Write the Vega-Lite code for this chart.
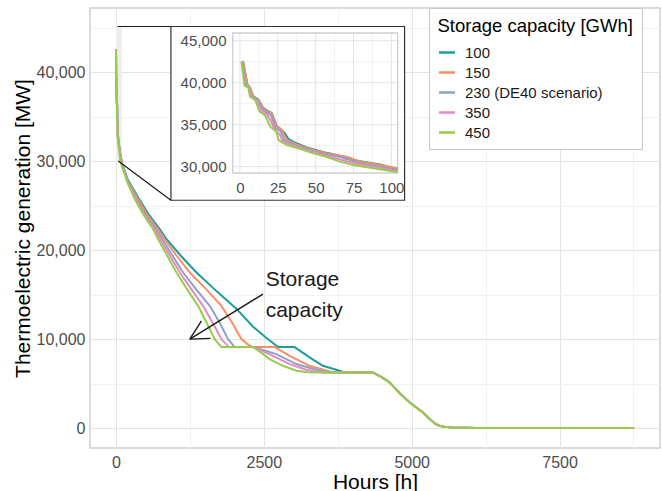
{
  "$schema": "https://vega.github.io/schema/vega-lite/v6.json",
  "width": 570,
  "height": 440,
  "autosize": "none",
  "padding": {"left": 90, "top": 8, "right": 2, "bottom": 43},
  "config": {
    "font": "Liberation Sans",
    "view": {"stroke": "#CFCFCF", "strokeWidth": 1.5},
    "axis": {"labelFlush": false, "labelOverlap": false, "labelBound": false}
  },
  "datasets": {
    "curves": [
      {"c":"100","h":2,"v":42600},{"c":"100","h":4.9,"v":39800},{"c":"100","h":6.6,"v":39400},{"c":"100","h":8.8,"v":38400},{"c":"100","h":12.1,"v":38000},{"c":"100","h":15.4,"v":37000},{"c":"100","h":18.7,"v":36600},{"c":"100","h":21,"v":36400},{"c":"100","h":24.3,"v":34850},{"c":"100","h":26.5,"v":34560},{"c":"100","h":29.8,"v":33960},{"c":"100","h":32,"v":33300},{"c":"100","h":35.3,"v":32950},{"c":"100","h":44.1,"v":32300},{"c":"100","h":57.3,"v":31650},{"c":"100","h":65,"v":31350},{"c":"100","h":70,"v":30950},{"c":"100","h":79.4,"v":30650},{"c":"100","h":92.6,"v":30250},{"c":"100","h":104,"v":29700},{"c":"100","h":124,"v":29400},{"c":"100","h":200,"v":27950},{"c":"100","h":395,"v":25730},{"c":"100","h":540,"v":24150},{"c":"100","h":743,"v":22360},{"c":"100","h":856,"v":21236},{"c":"100","h":1100,"v":19350},{"c":"100","h":1362,"v":17494},{"c":"100","h":1700,"v":15400},{"c":"100","h":2040,"v":13400},{"c":"100","h":2318,"v":11400},{"c":"100","h":2530,"v":10200},{"c":"100","h":2740,"v":9100},{"c":"100","h":3020,"v":9100},{"c":"100","h":3274,"v":7940},{"c":"100","h":3499,"v":7000},{"c":"100","h":3836,"v":6326},{"c":"100","h":3950,"v":6250},
      {"c":"100","h":4343,"v":6250},{"c":"100","h":4500,"v":5700},{"c":"100","h":4624,"v":5135},{"c":"100","h":4800,"v":3900},{"c":"100","h":4962,"v":2890},{"c":"100","h":5080,"v":2300},{"c":"100","h":5186,"v":1764},{"c":"100","h":5300,"v":1050},{"c":"100","h":5400,"v":450},{"c":"100","h":5468,"v":250},{"c":"100","h":5550,"v":130},{"c":"100","h":5700,"v":70},{"c":"100","h":5900,"v":30},{"c":"100","h":6100,"v":10},{"c":"100","h":6500,"v":0},{"c":"100","h":8760,"v":0},

      {"c":"150","h":2,"v":42600},{"c":"150","h":4.9,"v":39730},{"c":"150","h":6.6,"v":39330},{"c":"150","h":8.8,"v":38330},{"c":"150","h":12.1,"v":37940},{"c":"150","h":15.4,"v":36950},{"c":"150","h":18.7,"v":36550},{"c":"150","h":20.9,"v":36360},{"c":"150","h":24.3,"v":34760},{"c":"150","h":27.6,"v":34370},{"c":"150","h":30.9,"v":33180},{"c":"150","h":35.3,"v":32790},{"c":"150","h":44.1,"v":32190},{"c":"150","h":57.3,"v":31600},{"c":"150","h":70.5,"v":31190},{"c":"150","h":79.4,"v":30600},{"c":"150","h":92.6,"v":30200},{"c":"150","h":104,"v":29810},{"c":"150","h":124,"v":29300},{"c":"150","h":200,"v":27800},{"c":"150","h":377,"v":25730},{"c":"150","h":510,"v":24150},{"c":"150","h":715,"v":22360},{"c":"150","h":824,"v":21236},{"c":"150","h":1030,"v":19350},{"c":"150","h":1249,"v":17494},{"c":"150","h":1520,"v":15650},{"c":"150","h":1784,"v":13742},{"c":"150","h":1960,"v":11900},{"c":"150","h":2121,"v":10000},{"c":"150","h":2240,"v":9350},{"c":"150","h":2318,"v":9100},{"c":"150","h":2684,"v":9100},{"c":"150","h":2800,"v":8650},{"c":"150","h":2937,"v":8123},{"c":"150","h":3274,"v":7000},{"c":"150","h":3612,"v":6370},{"c":"150","h":3750,"v":6250},
      {"c":"150","h":4343,"v":6250},{"c":"150","h":4500,"v":5700},{"c":"150","h":4624,"v":5135},{"c":"150","h":4800,"v":3900},{"c":"150","h":4962,"v":2890},{"c":"150","h":5080,"v":2300},{"c":"150","h":5186,"v":1764},{"c":"150","h":5300,"v":1050},{"c":"150","h":5400,"v":450},{"c":"150","h":5468,"v":250},{"c":"150","h":5550,"v":130},{"c":"150","h":5700,"v":70},{"c":"150","h":5900,"v":30},{"c":"150","h":6100,"v":10},{"c":"150","h":6500,"v":0},{"c":"150","h":8760,"v":0},

      {"c":"230 (DE40 scenario)","h":1.5,"v":42550},{"c":"230 (DE40 scenario)","h":4,"v":39700},{"c":"230 (DE40 scenario)","h":6,"v":39380},{"c":"230 (DE40 scenario)","h":8,"v":38350},{"c":"230 (DE40 scenario)","h":11.5,"v":37940},{"c":"230 (DE40 scenario)","h":15,"v":36850},{"c":"230 (DE40 scenario)","h":18,"v":36450},{"c":"230 (DE40 scenario)","h":20.5,"v":36100},{"c":"230 (DE40 scenario)","h":23.5,"v":34600},{"c":"230 (DE40 scenario)","h":27,"v":34200},{"c":"230 (DE40 scenario)","h":29.5,"v":33100},{"c":"230 (DE40 scenario)","h":34,"v":32700},{"c":"230 (DE40 scenario)","h":43,"v":32150},{"c":"230 (DE40 scenario)","h":56,"v":31500},{"c":"230 (DE40 scenario)","h":69,"v":31050},{"c":"230 (DE40 scenario)","h":78,"v":30450},{"c":"230 (DE40 scenario)","h":91,"v":30050},{"c":"230 (DE40 scenario)","h":104,"v":29550},{"c":"230 (DE40 scenario)","h":124,"v":29200},{"c":"230 (DE40 scenario)","h":200,"v":27700},{"c":"230 (DE40 scenario)","h":350,"v":25730},{"c":"230 (DE40 scenario)","h":480,"v":24150},{"c":"230 (DE40 scenario)","h":680,"v":22360},{"c":"230 (DE40 scenario)","h":785,"v":21236},{"c":"230 (DE40 scenario)","h":960,"v":19350},{"c":"230 (DE40 scenario)","h":1136,"v":17494},{"c":"230 (DE40 scenario)","h":1350,"v":15650},{"c":"230 (DE40 scenario)","h":1586,"v":13742},{"c":"230 (DE40 scenario)","h":1750,"v":11900},{"c":"230 (DE40 scenario)","h":1896,"v":10000},{"c":"230 (DE40 scenario)","h":2008,"v":9100},{"c":"230 (DE40 scenario)","h":2318,"v":9100},{"c":"230 (DE40 scenario)","h":2500,"v":8750},{"c":"230 (DE40 scenario)","h":2712,"v":8315},{"c":"230 (DE40 scenario)","h":3050,"v":7191},{"c":"230 (DE40 scenario)","h":3387,"v":6550},{"c":"230 (DE40 scenario)","h":3550,"v":6300},{"c":"230 (DE40 scenario)","h":3650,"v":6250},
      {"c":"230 (DE40 scenario)","h":4343,"v":6250},{"c":"230 (DE40 scenario)","h":4500,"v":5700},{"c":"230 (DE40 scenario)","h":4624,"v":5135},{"c":"230 (DE40 scenario)","h":4800,"v":3900},{"c":"230 (DE40 scenario)","h":4962,"v":2890},{"c":"230 (DE40 scenario)","h":5080,"v":2300},{"c":"230 (DE40 scenario)","h":5186,"v":1764},{"c":"230 (DE40 scenario)","h":5300,"v":1050},{"c":"230 (DE40 scenario)","h":5400,"v":450},{"c":"230 (DE40 scenario)","h":5468,"v":250},{"c":"230 (DE40 scenario)","h":5550,"v":130},{"c":"230 (DE40 scenario)","h":5700,"v":70},{"c":"230 (DE40 scenario)","h":5900,"v":30},{"c":"230 (DE40 scenario)","h":6100,"v":10},{"c":"230 (DE40 scenario)","h":6500,"v":0},{"c":"230 (DE40 scenario)","h":8760,"v":0},

      {"c":"350","h":1.2,"v":42520},{"c":"350","h":3.5,"v":39650},{"c":"350","h":5.8,"v":39400},{"c":"350","h":7.5,"v":38340},{"c":"350","h":11,"v":37940},{"c":"350","h":14,"v":36700},{"c":"350","h":17.5,"v":36300},{"c":"350","h":20.2,"v":35500},{"c":"350","h":23,"v":34400},{"c":"350","h":26.5,"v":33800},{"c":"350","h":28,"v":33100},{"c":"350","h":33,"v":32650},{"c":"350","h":42,"v":32120},{"c":"350","h":52,"v":31550},{"c":"350","h":63,"v":31000},{"c":"350","h":77,"v":30350},{"c":"350","h":90,"v":29950},{"c":"350","h":104,"v":29450},{"c":"350","h":124,"v":29150},{"c":"350","h":200,"v":27650},{"c":"350","h":335,"v":25730},{"c":"350","h":465,"v":24150},{"c":"350","h":655,"v":22360},{"c":"350","h":750,"v":21236},{"c":"350","h":915,"v":19350},{"c":"350","h":1080,"v":17494},{"c":"350","h":1270,"v":15650},{"c":"350","h":1474,"v":13742},{"c":"350","h":1630,"v":11900},{"c":"350","h":1784,"v":10000},{"c":"350","h":1913,"v":9100},{"c":"350","h":2318,"v":9100},{"c":"350","h":2480,"v":8650},{"c":"350","h":2655,"v":8123},{"c":"350","h":2937,"v":7191},{"c":"350","h":3218,"v":6550},{"c":"350","h":3400,"v":6300},{"c":"350","h":3500,"v":6250},
      {"c":"350","h":4343,"v":6250},{"c":"350","h":4500,"v":5700},{"c":"350","h":4624,"v":5135},{"c":"350","h":4800,"v":3900},{"c":"350","h":4962,"v":2890},{"c":"350","h":5080,"v":2300},{"c":"350","h":5186,"v":1764},{"c":"350","h":5300,"v":1050},{"c":"350","h":5400,"v":450},{"c":"350","h":5468,"v":250},{"c":"350","h":5550,"v":130},{"c":"350","h":5700,"v":70},{"c":"350","h":5900,"v":30},{"c":"350","h":6100,"v":10},{"c":"350","h":6500,"v":0},{"c":"350","h":8760,"v":0},

      {"c":"450","h":1,"v":42500},{"c":"450","h":3,"v":39600},{"c":"450","h":5.5,"v":39450},{"c":"450","h":6.6,"v":38330},{"c":"450","h":10,"v":37940},{"c":"450","h":13,"v":36550},{"c":"450","h":16.5,"v":36150},{"c":"450","h":20,"v":34760},{"c":"450","h":24,"v":34170},{"c":"450","h":25.5,"v":33180},{"c":"450","h":31,"v":32580},{"c":"450","h":40,"v":32100},{"c":"450","h":48.5,"v":31600},{"c":"450","h":57,"v":31190},{"c":"450","h":66,"v":30600},{"c":"450","h":75,"v":30200},{"c":"450","h":88,"v":29810},{"c":"450","h":104,"v":29370},{"c":"450","h":124,"v":29050},{"c":"450","h":200,"v":27550},{"c":"450","h":321,"v":25730},{"c":"450","h":450,"v":24150},{"c":"450","h":630,"v":22360},{"c":"450","h":714,"v":21236},{"c":"450","h":870,"v":19350},{"c":"450","h":1024,"v":17494},{"c":"450","h":1200,"v":15650},{"c":"450","h":1389,"v":13742},{"c":"450","h":1530,"v":11900},{"c":"450","h":1671,"v":10000},{"c":"450","h":1784,"v":9100},{"c":"450","h":2318,"v":9100},{"c":"450","h":2460,"v":8450},{"c":"450","h":2599,"v":7753},{"c":"450","h":2824,"v":7000},{"c":"450","h":3050,"v":6438},{"c":"450","h":3250,"v":6280},{"c":"450","h":3400,"v":6250},
      {"c":"450","h":4343,"v":6250},{"c":"450","h":4500,"v":5700},{"c":"450","h":4624,"v":5135},{"c":"450","h":4800,"v":3900},{"c":"450","h":4962,"v":2890},{"c":"450","h":5080,"v":2300},{"c":"450","h":5186,"v":1764},{"c":"450","h":5300,"v":1050},{"c":"450","h":5400,"v":450},{"c":"450","h":5468,"v":250},{"c":"450","h":5550,"v":130},{"c":"450","h":5700,"v":70},{"c":"450","h":5900,"v":30},{"c":"450","h":6100,"v":10},{"c":"450","h":6500,"v":0},{"c":"450","h":8760,"v":0}
    ]
  },
  "resolve": {"scale": {"x": "independent", "y": "independent"}},
  "layer": [
    {
      "layer": [
        {
          "data": {"name": "curves"},
          "mark": {"type": "line", "strokeWidth": 2, "opacity": 0},
          "encoding": {
            "x": {
              "field": "h", "type": "quantitative",
              "scale": {"domain": [-438, 9198], "nice": false, "zero": false},
              "axis": {
                "values": [0, 1250, 2500, 3750, 5000, 6250, 7500, 8750],
                "labelExpr": "datum.value % 2500 === 0 ? format(datum.value, 'd') : ''",
                "grid": true,
                "gridColor": {"condition": {"test": "datum.value % 2500 === 0", "value": "#E4E4E4"}, "value": "#F1F1F1"},
                "gridWidth": 1,
                "domain": false, "ticks": false,
                "labelFontSize": 16, "labelColor": "#4D4D4D", "labelPadding": 6.5,
                "title": "Hours [h]", "titleFontSize": 21, "titleFontWeight": "normal", "titleColor": "#000000",
                "titleX": 285, "titleY": 40, "titleAlign": "center", "titleBaseline": "alphabetic"
              }
            },
            "y": {
              "field": "v", "type": "quantitative",
              "scale": {"domain": [-2250, 47250], "nice": false, "zero": false},
              "axis": {
                "values": [0, 5000, 10000, 15000, 20000, 25000, 30000, 35000, 40000, 45000],
                "labelExpr": "datum.value % 10000 === 0 ? format(datum.value, ',') : ''",
                "grid": true,
                "gridColor": {"condition": {"test": "datum.value % 10000 === 0", "value": "#E4E4E4"}, "value": "#F1F1F1"},
                "gridWidth": 1,
                "domain": false, "ticks": false,
                "labelFontSize": 16, "labelColor": "#4D4D4D", "labelPadding": 5,
                "title": "Thermoelectric generation [MW]", "titleFontSize": 21, "titleFontWeight": "normal", "titleColor": "#000000",
                "titleX": -61, "titleY": 220, "titleAngle": 270, "titleAlign": "center", "titleBaseline": "alphabetic"
              }
            },
            "color": {
              "field": "c", "type": "nominal",
              "scale": {
                "domain": ["100", "150", "230 (DE40 scenario)", "350", "450"],
                "range": ["#1B9E98", "#FC8D62", "#8DA0CB", "#E78AC3", "#96CD4A"]
              },
              "legend": {
                "orient": "none", "legendX": 339, "legendY": 0,
                "title": "Storage capacity [GWh]",
                "titleFontSize": 18.5, "titleFontWeight": "normal", "titleColor": "#000000", "titlePadding": 8, "titleLimit": 600,
                "labelFontSize": 15, "labelColor": "#1A1A1A", "labelOffset": 8.5, "labelLimit": 600,
                "symbolType": "stroke", "symbolSize": 256, "symbolStrokeWidth": 2.5, "symbolOpacity": 1,
                "rowPadding": 2, "padding": 8.5,
                "fillColor": "#FFFFFF", "strokeColor": "#C8C8C8",
                "zindex": 3
              }
            }
          }
        },
        {
          "data": {"values": [{}]},
          "mark": {"type": "rect", "fill": "#EDEDED"},
          "encoding": {
            "x": {"datum": 0, "type": "quantitative"},
            "x2": {"datum": 100},
            "y": {"datum": 30000, "type": "quantitative"},
            "y2": {"datum": 45170}
          }
        },
        {
          "data": {"name": "curves"},
          "mark": {"type": "line", "strokeWidth": 2},
          "encoding": {
            "x": {"field": "h", "type": "quantitative"},
            "y": {"field": "v", "type": "quantitative"},
            "color": {"field": "c", "type": "nominal"}
          }
        },
        {
          "data": {"values": [{}]},
          "mark": {"type": "rect", "fill": "#FFFFFF", "stroke": "#333333", "strokeWidth": 1.2},
          "encoding": {
            "x": {"datum": 930, "type": "quantitative"},
            "x2": {"datum": 4880},
            "y": {"datum": 25620, "type": "quantitative"},
            "y2": {"datum": 45170}
          }
        },
        {
          "data": {"values": [{}]},
          "mark": {"type": "rule", "color": "#1A1A1A", "strokeWidth": 1.2},
          "encoding": {
            "x": {"datum": 28, "type": "quantitative"},
            "x2": {"datum": 930},
            "y": {"datum": 45170, "type": "quantitative"},
            "y2": {"datum": 45170}
          }
        },
        {
          "data": {"values": [{}]},
          "mark": {"type": "rule", "color": "#1A1A1A", "strokeWidth": 1.2},
          "encoding": {
            "x": {"datum": 39, "type": "quantitative"},
            "x2": {"datum": 930},
            "y": {"datum": 30030, "type": "quantitative"},
            "y2": {"datum": 25620}
          }
        },
        {
          "data": {"values": [{}]},
          "mark": {"type": "rule", "color": "#1A1A1A", "strokeWidth": 1.4},
          "encoding": {
            "x": {"datum": 2486, "type": "quantitative"},
            "x2": {"datum": 1249},
            "y": {"datum": 15056, "type": "quantitative"},
            "y2": {"datum": 10000}
          }
        },
        {
          "data": {"values": [{}]},
          "mark": {"type": "rule", "color": "#1A1A1A", "strokeWidth": 1.4},
          "encoding": {
            "x": {"datum": 1249, "type": "quantitative"},
            "x2": {"datum": 1446},
            "y": {"datum": 10000, "type": "quantitative"},
            "y2": {"datum": 12056}
          }
        },
        {
          "data": {"values": [{}]},
          "mark": {"type": "rule", "color": "#1A1A1A", "strokeWidth": 1.4},
          "encoding": {
            "x": {"datum": 1249, "type": "quantitative"},
            "x2": {"datum": 1598},
            "y": {"datum": 10000, "type": "quantitative"},
            "y2": {"datum": 10079}
          }
        },
        {
          "data": {"values": [{}]},
          "mark": {"type": "text", "text": ["Storage", "capacity"], "align": "left", "baseline": "alphabetic", "fontSize": 21, "lineHeight": 31, "color": "#1A1A1A"},
          "encoding": {
            "x": {"datum": 2532, "type": "quantitative"},
            "y": {"datum": 15955, "type": "quantitative"}
          }
        }
      ]
    },
    {
      "layer": [
        {
          "data": {"name": "curves"},
          "transform": [{"filter": "datum.h <= 104"}],
          "mark": {"type": "line", "strokeWidth": 2, "opacity": 0},
          "encoding": {
            "x": {
              "field": "h", "type": "quantitative",
              "scale": {"domain": [-4.8, 104.2], "range": [142.7, 307.7], "nice": false, "zero": false},
              "axis": {
                "orient": "bottom", "offset": -275,
                "values": [0, 25, 50, 75, 100],
                "labelExpr": "format(datum.value, 'd')",
                "grid": false, "domain": false, "ticks": false,
                "labelFontSize": 15, "labelColor": "#4D4D4D", "labelPadding": 7.5,
                "title": null, "zindex": 1
              }
            },
            "y": {
              "field": "v", "type": "quantitative",
              "scale": {"domain": [29250, 45917], "range": [165, 25], "nice": false, "zero": false},
              "axis": {
                "orient": "left", "offset": -142.7,
                "values": [30000, 35000, 40000, 45000],
                "labelExpr": "format(datum.value, ',')",
                "grid": false, "domain": false, "ticks": false,
                "labelFontSize": 15, "labelColor": "#4D4D4D", "labelPadding": 6.7,
                "title": null, "zindex": 1
              }
            },
            "color": {"field": "c", "type": "nominal", "legend": null}
          }
        },
        {
          "data": {"values": [{"g": 12.5}, {"g": 37.5}, {"g": 62.5}, {"g": 87.5}]},
          "mark": {"type": "rule", "color": "#F1F1F1", "strokeWidth": 1},
          "encoding": {
            "x": {"field": "g", "type": "quantitative", "title": null},
            "y": {"datum": 29250, "type": "quantitative"},
            "y2": {"datum": 45917}
          }
        },
        {
          "data": {"values": [{"g": 32500}, {"g": 37500}, {"g": 42500}]},
          "mark": {"type": "rule", "color": "#F1F1F1", "strokeWidth": 1},
          "encoding": {
            "y": {"field": "g", "type": "quantitative", "title": null},
            "x": {"datum": -4.8, "type": "quantitative"},
            "x2": {"datum": 104.2}
          }
        },
        {
          "data": {"values": [{"g": 0}, {"g": 25}, {"g": 50}, {"g": 75}, {"g": 100}]},
          "mark": {"type": "rule", "color": "#E4E4E4", "strokeWidth": 1},
          "encoding": {
            "x": {"field": "g", "type": "quantitative", "title": null},
            "y": {"datum": 29250, "type": "quantitative"},
            "y2": {"datum": 45917}
          }
        },
        {
          "data": {"values": [{"g": 30000}, {"g": 35000}, {"g": 40000}, {"g": 45000}]},
          "mark": {"type": "rule", "color": "#E4E4E4", "strokeWidth": 1},
          "encoding": {
            "y": {"field": "g", "type": "quantitative", "title": null},
            "x": {"datum": -4.8, "type": "quantitative"},
            "x2": {"datum": 104.2}
          }
        },
        {
          "data": {"values": [{}]},
          "mark": {"type": "rect", "fillOpacity": 0, "stroke": "#CFCFCF", "strokeWidth": 1.3},
          "encoding": {
            "x": {"datum": -4.8, "type": "quantitative"},
            "x2": {"datum": 104.2},
            "y": {"datum": 29250, "type": "quantitative"},
            "y2": {"datum": 45917}
          }
        },
        {
          "data": {"name": "curves"},
          "transform": [{"filter": "datum.h <= 104"}],
          "mark": {"type": "line", "strokeWidth": 2},
          "encoding": {
            "x": {"field": "h", "type": "quantitative"},
            "y": {"field": "v", "type": "quantitative"},
            "color": {"field": "c", "type": "nominal", "legend": null}
          }
        }
      ]
    }
  ]
}
